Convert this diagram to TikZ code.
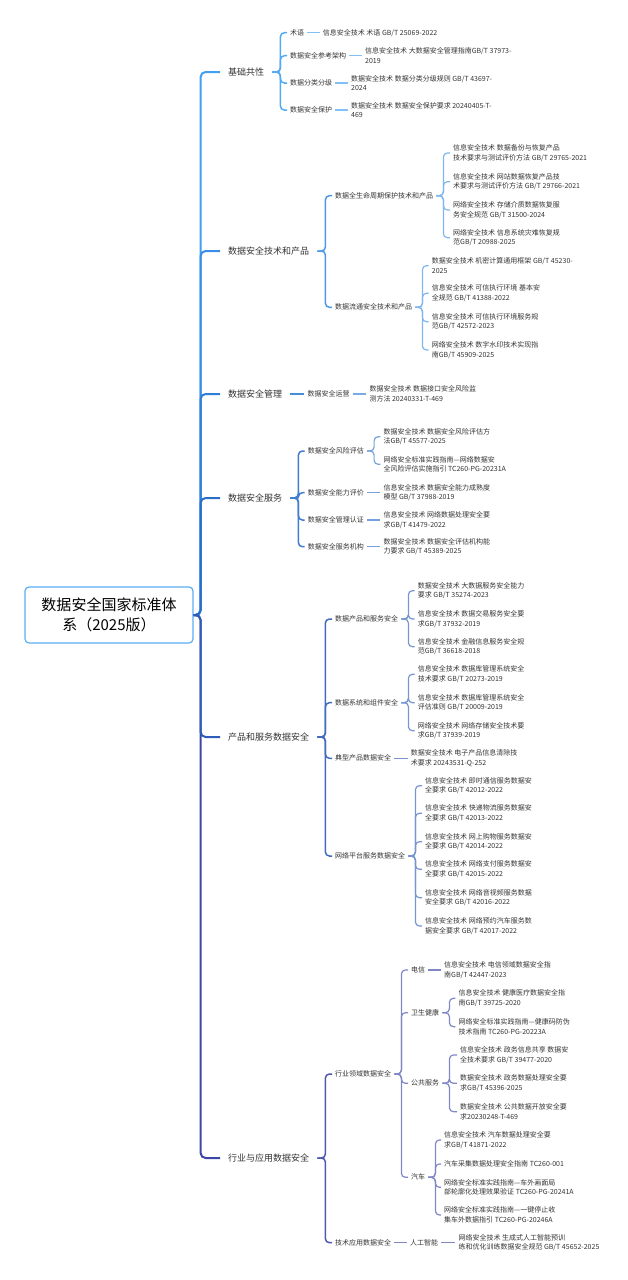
\documentclass[tikz,border=0pt]{standalone}
\usepackage{fontspec}
\setmainfont{Noto Sans CJK SC}
\usetikzlibrary{positioning}

\definecolor{cA}{HTML}{3FA0F2}
\definecolor{cB}{HTML}{3A8EE6}
\definecolor{cC}{HTML}{2F7FD9}
\definecolor{cD}{HTML}{2B6ECA}
\definecolor{cE}{HTML}{2E5CB8}
\definecolor{cF}{HTML}{3B46A6}
\definecolor{ink}{HTML}{333333}

\begin{document}
\begin{tikzpicture}[x=1pt,y=-1pt,
  rootbox/.style={draw=cA!85,line width=1.2pt,rounded corners=4pt,fill=white,text=black,
    minimum width=168pt,minimum height=56pt,align=center,font={\fontsize{15}{20}\selectfont}},
  topic/.style={anchor=west,inner xsep=8pt,inner ysep=2pt,text=ink,font={\fontsize{9}{11}\selectfont}},
  cat/.style={anchor=west,inner xsep=3pt,inner ysep=2pt,text=ink,font={\fontsize{7}{9.5}\selectfont}},
  std/.style={cat,align=left},
  trunkln/.style={line width=2pt,rounded corners=5pt,#1},
  boughln/.style={line width=1.5pt,rounded corners=4pt,#1!90!white},
  twigln/.style={line width=1.2pt,rounded corners=4pt,#1!65!white},
]
  \useasboundingbox (0,0) rectangle (628,1280);

  % 根
  \node[rootbox] (root) at (109,615) {数据安全国家标准体\\系（2025版）};

  % 一级
  \node[topic] (t1) at (220,72) {基础共性};
  \node[topic] (t2) at (220,251) {数据安全技术和产品};
  \node[topic] (t3) at (220,394) {数据安全管理};
  \node[topic] (t4) at (220,498) {数据安全服务};
  \node[topic] (t5) at (220,737) {产品和服务数据安全};
  \node[topic] (t6) at (220,1158) {行业与应用数据安全};

  \draw[trunkln=cA] (root.east) -- ++(7,0) |- (t1.west);
  \draw[trunkln=cB] (root.east) -- ++(7,0) |- (t2.west);
  \draw[trunkln=cC] (root.east) -- ++(7,0) |- (t3.west);
  \draw[trunkln=cD] (root.east) -- ++(7,0) |- (t4.west);
  \draw[trunkln=cF] (root.east) -- ++(7,0) |- (t6.west);
  \draw[trunkln=cE] (root.east) -- ++(7,0) |- (t5.west);

  % 基础共性
  \node[cat] (a1) at (287,32.7) {术语};
  \node[cat] (a2) at (287,55.7) {数据安全参考架构};
  \node[cat] (a3) at (287,83) {数据分类分级};
  \node[cat] (a4) at (287,110) {数据安全保护};
  \node[std] (a11) at (319.7,32.7) {信息安全技术 术语 GB/T 25069-2022};
  \node[std] (a21) at (362,55.7) {信息安全技术 大数据安全管理指南GB/T 37973-\\2019};
  \node[std] (a31) at (348,83) {数据安全技术 数据分类分级规则 GB/T 43697-\\2024};
  \node[std] (a41) at (348,110) {数据安全技术 数据安全保护要求 20240405-T-\\469};

  \draw[boughln=cA] (t1.east) -- ++(8,0) |- (a1.west);
  \draw[boughln=cA] (t1.east) -- ++(8,0) |- (a2.west);
  \draw[boughln=cA] (t1.east) -- ++(8,0) |- (a3.west);
  \draw[boughln=cA] (t1.east) -- ++(8,0) |- (a4.west);
  \draw[twigln=cA] (a1.east) -- (a11.west);
  \draw[twigln=cA] (a2.east) -- (a21.west);
  \draw[twigln=cA] (a3.east) -- (a31.west);
  \draw[twigln=cA] (a4.east) -- (a41.west);

  % 数据安全技术和产品
  \node[cat] (b1) at (332,195.7) {数据全生命周期保护技术和产品};
  \node[cat] (b2) at (332,307.3) {数据流通安全技术和产品};
  \node[std] (b11) at (450,153) {信息安全技术 数据备份与恢复产品\\技术要求与测试评价方法 GB/T 29765-2021};
  \node[std] (b12) at (450,181.7) {信息安全技术 网站数据恢复产品技\\术要求与测试评价方法 GB/T 29766-2021};
  \node[std] (b13) at (450,210) {网络安全技术 存储介质数据恢复服\\务安全规范 GB/T 31500-2024};
  \node[std] (b14) at (450,237.7) {网络安全技术 信息系统灾难恢复规\\范GB/T 20988-2025};
  \node[std] (b21) at (428.7,265.7) {数据安全技术 机密计算通用框架 GB/T 45230-\\2025};
  \node[std] (b22) at (428.7,293.3) {信息安全技术 可信执行环境 基本安\\全规范 GB/T 41388-2022};
  \node[std] (b23) at (428.7,321.7) {信息安全技术 可信执行环境服务规\\范GB/T 42572-2023};
  \node[std] (b24) at (428.7,350) {网络安全技术 数字水印技术实现指\\南GB/T 45909-2025};

  \draw[boughln=cB] (t2.east) -- ++(8,0) |- (b1.west);
  \draw[boughln=cB] (t2.east) -- ++(8,0) |- (b2.west);
  \draw[twigln=cB] (b1.east) -- ++(7,0) |- (b11.west);
  \draw[twigln=cB] (b1.east) -- ++(7,0) |- (b12.west);
  \draw[twigln=cB] (b1.east) -- ++(7,0) |- (b13.west);
  \draw[twigln=cB] (b1.east) -- ++(7,0) |- (b14.west);
  \draw[twigln=cB] (b2.east) -- ++(7,0) |- (b21.west);
  \draw[twigln=cB] (b2.east) -- ++(7,0) |- (b22.west);
  \draw[twigln=cB] (b2.east) -- ++(7,0) |- (b23.west);
  \draw[twigln=cB] (b2.east) -- ++(7,0) |- (b24.west);

  % 数据安全管理
  \node[cat] (c1) at (304.3,394) {数据安全运营};
  \node[std] (c11) at (366.3,394) {数据安全技术 数据接口安全风险监\\测方法 20240331-T-469};
  \draw[boughln=cC] (t3.east) -- (c1.west);
  \draw[twigln=cC] (c1.east) -- (c11.west);

  % 数据安全服务
  \node[cat] (d1) at (304.7,451) {数据安全风险评估};
  \node[cat] (d2) at (304.7,492.7) {数据安全能力评价};
  \node[cat] (d3) at (304.7,520) {数据安全管理认证};
  \node[cat] (d4) at (304.7,546.7) {数据安全服务机构};
  \node[std] (d11) at (380.3,436.7) {数据安全技术 数据安全风险评估方\\法GB/T 45577-2025};
  \node[std] (d12) at (380.3,464.3) {网络安全标准实践指南—网络数据安\\全风险评估实施指引 TC260-PG-20231A};
  \node[std] (d21) at (380.3,492.7) {信息安全技术 数据安全能力成熟度\\模型 GB/T 37988-2019};
  \node[std] (d31) at (380.3,520) {信息安全技术 网络数据处理安全要\\求GB/T 41479-2022};
  \node[std] (d41) at (380.3,546.7) {数据安全技术 数据安全评估机构能\\力要求 GB/T 45389-2025};

  \draw[boughln=cD] (t4.east) -- ++(8,0) |- (d1.west);
  \draw[boughln=cD] (t4.east) -- ++(8,0) |- (d2.west);
  \draw[boughln=cD] (t4.east) -- ++(8,0) |- (d3.west);
  \draw[boughln=cD] (t4.east) -- ++(8,0) |- (d4.west);
  \draw[twigln=cD] (d1.east) -- ++(7,0) |- (d11.west);
  \draw[twigln=cD] (d1.east) -- ++(7,0) |- (d12.west);
  \draw[twigln=cD] (d2.east) -- (d21.west);
  \draw[twigln=cD] (d3.east) -- (d31.west);
  \draw[twigln=cD] (d4.east) -- (d41.west);

  % 产品和服务数据安全
  \node[cat] (e1) at (332,619) {数据产品和服务安全};
  \node[cat] (e2) at (332,702.7) {数据系统和组件安全};
  \node[cat] (e3) at (332,758.3) {典型产品数据安全};
  \node[cat] (e4) at (332,856) {网络平台服务数据安全};
  \node[std] (e11) at (414.7,590.7) {数据安全技术 大数据服务安全能力\\要求 GB/T 35274-2023};
  \node[std] (e12) at (414.7,619) {信息安全技术 数据交易服务安全要\\求GB/T 37932-2019};
  \node[std] (e13) at (414.7,646.7) {信息安全技术 金融信息服务安全规\\范GB/T 36618-2018};
  \node[std] (e21) at (414.7,674.3) {信息安全技术 数据库管理系统安全\\技术要求 GB/T 20273-2019};
  \node[std] (e22) at (414.7,702.7) {信息安全技术 数据库管理系统安全\\评估准则 GB/T 20009-2019};
  \node[std] (e23) at (414.7,730.7) {网络安全技术 网络存储安全技术要\\求GB/T 37939-2019};
  \node[std] (e31) at (407.7,758.3) {数据安全技术 电子产品信息清除技\\术要求 20243531-Q-252};
  \node[std] (e41) at (422,785.7) {信息安全技术 即时通信服务数据安\\全要求 GB/T 42012-2022};
  \node[std] (e42) at (422,813.3) {信息安全技术 快递物流服务数据安\\全要求 GB/T 42013-2022};
  \node[std] (e43) at (422,841.7) {信息安全技术 网上购物服务数据安\\全要求 GB/T 42014-2022};
  \node[std] (e44) at (422,869.3) {信息安全技术 网络支付服务数据安\\全要求 GB/T 42015-2022};
  \node[std] (e45) at (422,897.7) {信息安全技术 网络音视频服务数据\\安全要求 GB/T 42016-2022};
  \node[std] (e46) at (422,926) {信息安全技术 网络预约汽车服务数\\据安全要求 GB/T 42017-2022};

  \draw[boughln=cE] (t5.east) -- ++(8,0) |- (e1.west);
  \draw[boughln=cE] (t5.east) -- ++(8,0) |- (e2.west);
  \draw[boughln=cE] (t5.east) -- ++(8,0) |- (e3.west);
  \draw[boughln=cE] (t5.east) -- ++(8,0) |- (e4.west);
  \draw[twigln=cE] (e1.east) -- ++(7,0) |- (e11.west);
  \draw[twigln=cE] (e1.east) -- ++(7,0) |- (e12.west);
  \draw[twigln=cE] (e1.east) -- ++(7,0) |- (e13.west);
  \draw[twigln=cE] (e2.east) -- ++(7,0) |- (e21.west);
  \draw[twigln=cE] (e2.east) -- ++(7,0) |- (e22.west);
  \draw[twigln=cE] (e2.east) -- ++(7,0) |- (e23.west);
  \draw[twigln=cE] (e3.east) -- (e31.west);
  \draw[twigln=cE] (e4.east) -- ++(7,0) |- (e41.west);
  \draw[twigln=cE] (e4.east) -- ++(7,0) |- (e42.west);
  \draw[twigln=cE] (e4.east) -- ++(7,0) |- (e43.west);
  \draw[twigln=cE] (e4.east) -- ++(7,0) |- (e44.west);
  \draw[twigln=cE] (e4.east) -- ++(7,0) |- (e45.west);
  \draw[twigln=cE] (e4.east) -- ++(7,0) |- (e46.west);

  % 行业与应用数据安全
  \node[cat] (f1) at (332,1074) {行业领域数据安全};
  \node[cat] (f2) at (332,1242.7) {技术应用数据安全};
  \node[cat] (f11) at (408,970) {电信};
  \node[cat] (f12) at (408,1012.7) {卫生健康};
  \node[cat] (f13) at (408,1083.3) {公共服务};
  \node[cat] (f14) at (408,1177.3) {汽车};
  \node[cat] (f21) at (407,1242.7) {人工智能};
  \node[std] (f111) at (441,970) {信息安全技术 电信领域数据安全指\\南GB/T 42447-2023};
  \node[std] (f121) at (455.3,998.3) {信息安全技术 健康医疗数据安全指\\南GB/T 39725-2020};
  \node[std] (f122) at (455.3,1026.7) {网络安全标准实践指南—健康码防伪\\技术指南 TC260-PG-20223A};
  \node[std] (f131) at (457,1055) {信息安全技术 政务信息共享 数据安\\全技术要求 GB/T 39477-2020};
  \node[std] (f132) at (457,1083.3) {数据安全技术 政务数据处理安全要\\求GB/T 45396-2025};
  \node[std] (f133) at (457,1111.7) {数据安全技术 公共数据开放安全要\\求20230248-T-469};
  \node[std] (f141) at (441,1140) {信息安全技术 汽车数据处理安全要\\求GB/T 41871-2022};
  \node[std] (f142) at (441,1164) {汽车采集数据处理安全指南 TC260-001};
  \node[std] (f143) at (441,1187.3) {网络安全标准实践指南—车外画面局\\部轮廓化处理效果验证 TC260-PG-20241A};
  \node[std] (f144) at (441,1215) {网络安全标准实践指南—一键停止收\\集车外数据指引 TC260-PG-20246A};
  \node[std] (f211) at (455.3,1242.7) {网络安全技术 生成式人工智能预训\\练和优化训练数据安全规范 GB/T 45652-2025};

  \draw[boughln=cF] (t6.east) -- ++(8,0) |- (f1.west);
  \draw[boughln=cF] (t6.east) -- ++(8,0) |- (f2.west);
  \draw[twigln=cF] (f1.east) -- ++(7,0) |- (f11.west);
  \draw[twigln=cF] (f1.east) -- ++(7,0) |- (f12.west);
  \draw[twigln=cF] (f1.east) -- ++(7,0) |- (f13.west);
  \draw[twigln=cF] (f1.east) -- ++(7,0) |- (f14.west);
  \draw[twigln=cF] (f2.east) -- (f21.west);
  \draw[twigln=cF] (f11.east) -- (f111.west);
  \draw[twigln=cF] (f12.east) -- ++(7,0) |- (f121.west);
  \draw[twigln=cF] (f12.east) -- ++(7,0) |- (f122.west);
  \draw[twigln=cF] (f13.east) -- ++(7,0) |- (f131.west);
  \draw[twigln=cF] (f13.east) -- ++(7,0) |- (f132.west);
  \draw[twigln=cF] (f13.east) -- ++(7,0) |- (f133.west);
  \draw[twigln=cF] (f14.east) -- ++(7,0) |- (f141.west);
  \draw[twigln=cF] (f14.east) -- ++(7,0) |- (f142.west);
  \draw[twigln=cF] (f14.east) -- ++(7,0) |- (f143.west);
  \draw[twigln=cF] (f14.east) -- ++(7,0) |- (f144.west);
  \draw[twigln=cF] (f21.east) -- (f211.west);
\end{tikzpicture}
\end{document}
